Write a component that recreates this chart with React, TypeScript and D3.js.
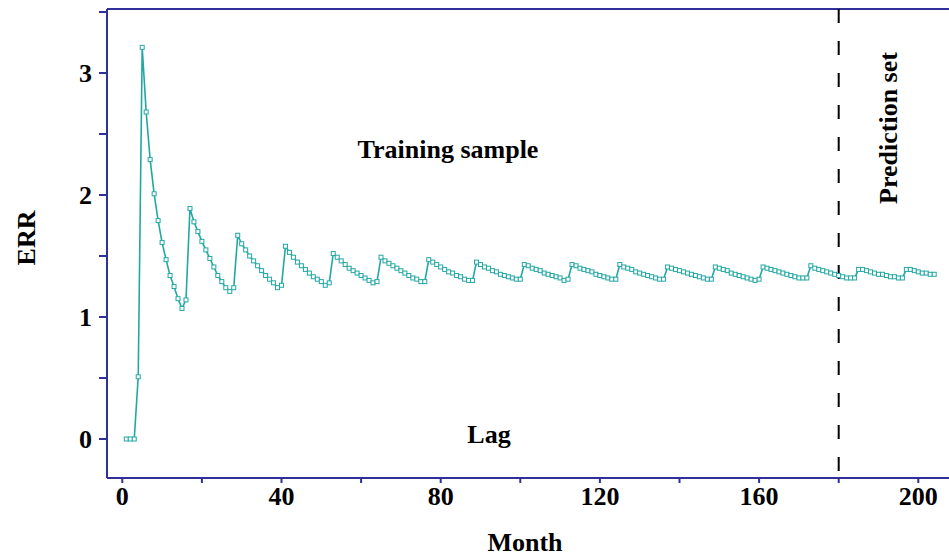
import React from "react";
import * as d3 from "d3";

// ERR value for each month, starting at month 1
const errValues: number[] = [
  0, 0, 0, 0.51,
  3.21, 2.68, 2.29, 2.01, 1.79, 1.61, 1.47, 1.34, 1.25, 1.15, 1.07, 1.14,
  1.89, 1.78, 1.70, 1.62, 1.55, 1.48, 1.41, 1.34, 1.29, 1.24, 1.21, 1.24,
  1.67, 1.60, 1.55, 1.50, 1.46, 1.42, 1.38, 1.34, 1.31, 1.28, 1.24, 1.26,
  1.58, 1.53, 1.49, 1.45, 1.42, 1.39, 1.36, 1.33, 1.31, 1.29, 1.26, 1.28,
  1.52, 1.49, 1.46, 1.43, 1.40, 1.38, 1.36, 1.34, 1.32, 1.30, 1.28, 1.29,
  1.49, 1.46, 1.44, 1.42, 1.40, 1.38, 1.36, 1.34, 1.32, 1.31, 1.29, 1.29,
  1.47, 1.45, 1.43, 1.41, 1.39, 1.37, 1.36, 1.34, 1.33, 1.31, 1.30, 1.30,
  1.45, 1.43, 1.41, 1.40, 1.38, 1.37, 1.35, 1.34, 1.33, 1.32, 1.31, 1.31,
  1.43, 1.42, 1.40, 1.39, 1.38, 1.36, 1.35, 1.34, 1.33, 1.32, 1.30, 1.31,
  1.43, 1.42, 1.40, 1.39, 1.38, 1.37, 1.35, 1.34, 1.33, 1.32, 1.31, 1.31,
  1.43, 1.41, 1.40, 1.39, 1.37, 1.36, 1.35, 1.34, 1.33, 1.32, 1.31, 1.31,
  1.41, 1.40, 1.39, 1.38, 1.37, 1.36, 1.35, 1.34, 1.33, 1.32, 1.31, 1.31,
  1.41, 1.40, 1.39, 1.38, 1.36, 1.35, 1.34, 1.33, 1.32, 1.31, 1.30, 1.31,
  1.41, 1.40, 1.39, 1.38, 1.37, 1.36, 1.35, 1.34, 1.33, 1.32, 1.32, 1.32,
  1.42, 1.40, 1.39, 1.38, 1.37, 1.36, 1.35, 1.34, 1.33, 1.32, 1.32, 1.32,
  1.39, 1.39, 1.38, 1.37, 1.36, 1.35, 1.35, 1.34, 1.33, 1.33, 1.32, 1.32,
  1.39, 1.39, 1.38, 1.37, 1.36, 1.36, 1.35, 1.35,
];
const firstMonth = 1;
const xTickLabels = [0, 40, 80, 120, 160, 200];
const yTickLabels = [0, 1, 2, 3];
const predictionStart = 180;

const W = 949;
const H = 559;
const AXIS = "#30309a";
const LINE = "#22a8a4";
const FONT = "'Liberation Serif', 'Times New Roman', serif";

export default function App() {
  const x = d3.scaleLinear().domain([0, 200]).range([122.3, 918.3]);
  const y = d3.scaleLinear().domain([0, 3.5]).range([439, 12]);
  const left = 107;
  const top = 9;
  const bottom = 478;

  const pts = errValues.map((v, i) => ({ m: firstMonth + i, v }));
  const line = d3
    .line<{ m: number; v: number }>()
    .x((d) => x(d.m))
    .y((d) => y(d.v));

  const yTicks = y.ticks(7);
  const xTicks = x.ticks(10);

  return (
    <svg
      width={W}
      height={H}
      style={{ position: "absolute", left: 0, top: 0, background: "#fff" }}
      fontFamily={FONT}
    >
      {/* frame */}
      <line x1={left} x2={W} y1={top} y2={top} stroke={AXIS} strokeWidth={2} />
      <line x1={left} x2={left} y1={top} y2={bottom} stroke={AXIS} strokeWidth={2} />
      <line x1={left} x2={W} y1={bottom} y2={bottom} stroke={AXIS} strokeWidth={2} />

      {/* y ticks */}
      {yTicks.map((t) => (
        <line key={"yt" + t} x1={left - 8} x2={left} y1={y(t)} y2={y(t)} stroke={AXIS} strokeWidth={2} />
      ))}
      {yTickLabels.map((t) => (
        <text
          key={"yl" + t}
          x={92}
          y={y(t) + 9}
          textAnchor="end"
          fontSize={26}
          fontWeight="bold"
          fill="#000"
        >
          {t}
        </text>
      ))}

      {/* x ticks */}
      {xTicks.map((t) => (
        <line key={"xt" + t} x1={x(t)} x2={x(t)} y1={bottom} y2={bottom + 5} stroke={AXIS} strokeWidth={2} />
      ))}
      {xTickLabels.map((t) => (
        <text
          key={"xl" + t}
          x={x(t)}
          y={505}
          textAnchor="middle"
          fontSize={26}
          fontWeight="bold"
          fill="#000"
        >
          {t}
        </text>
      ))}

      {/* prediction boundary */}
      <line
        x1={x(predictionStart)}
        x2={x(predictionStart)}
        y1={top}
        y2={bottom}
        stroke="#000"
        strokeWidth={2}
        strokeDasharray="14,18"
      />

      {/* series */}
      <path d={line(pts) || ""} fill="none" stroke={LINE} strokeWidth={1.6} />
      {pts.map((d) => (
        <rect
          key={"m" + d.m}
          x={x(d.m) - 2}
          y={y(d.v) - 2}
          width={4}
          height={4}
          fill="#fff"
          stroke={LINE}
          strokeWidth={1}
        />
      ))}

      {/* texts */}
      <text x={448} y={158} textAnchor="middle" fontSize={26} fontWeight="bold">
        Training sample
      </text>
      <text x={489} y={443} textAnchor="middle" fontSize={26} fontWeight="bold">
        Lag
      </text>
      <text x={525} y={551} textAnchor="middle" fontSize={26} fontWeight="bold">
        Month
      </text>
      <text
        transform="translate(35,238) rotate(-90)"
        textAnchor="middle"
        fontSize={26}
        fontWeight="bold"
      >
        ERR
      </text>
      <text
        transform="translate(897,128) rotate(-90)"
        textAnchor="middle"
        fontSize={26}
        fontWeight="bold"
      >
        Prediction set
      </text>
    </svg>
  );
}
